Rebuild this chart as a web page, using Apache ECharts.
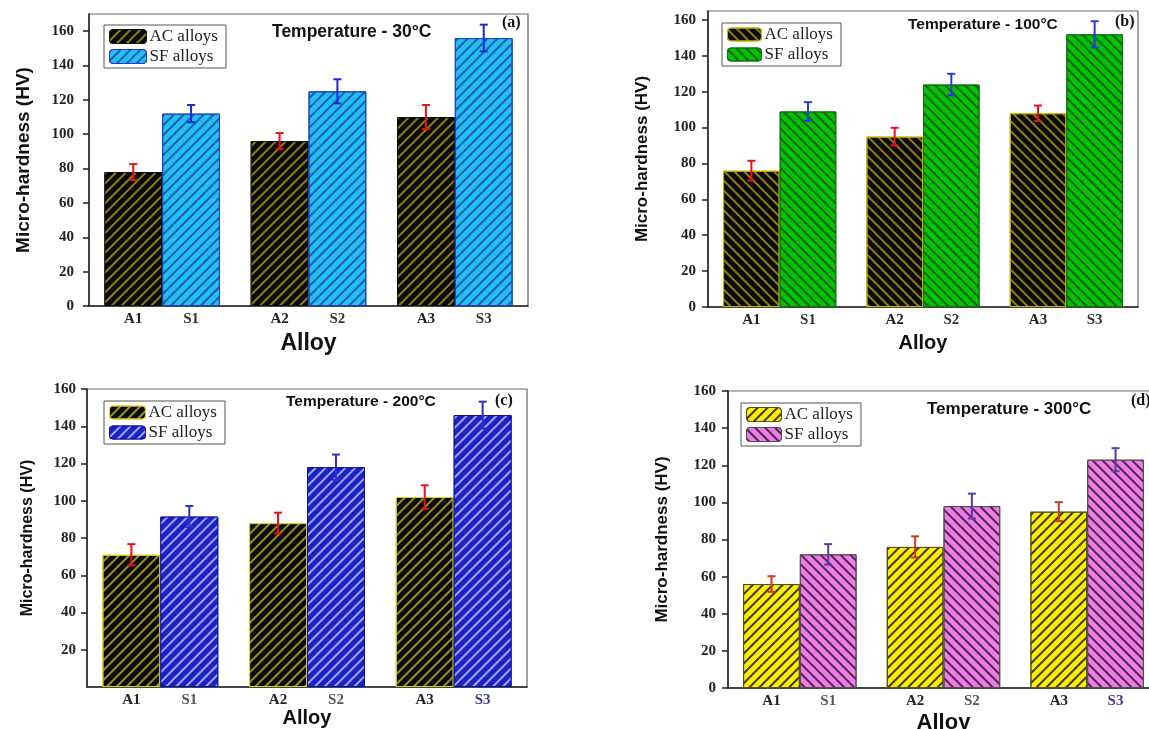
<!DOCTYPE html>
<html>
<head>
<meta charset="utf-8">
<script src="https://cdn.jsdelivr.net/npm/echarts@6/dist/echarts.min.js"></script>
<style>
  html, body { margin: 0; padding: 0; background: #fff; }
  #chart { width: 1149px; height: 729px; }
</style>
</head>
<body>
<div id="chart"></div>
<script>
// x labels
var acLabels = ['A1', 'A2', 'A3'];
var sfLabels = ['S1', 'S2', 'S3'];
var yTicks = [0, 20, 40, 60, 80, 100, 120, 140, 160];

// micro-hardness (HV)
var ac30 = [78, 96, 110];
var sf30 = [112, 125, 156];
var ac30Err = [4.6, 4.7, 7];
var sf30Err = [5, 7, 7.8];

var ac100 = [76, 95, 108];
var sf100 = [109, 124, 152];
var ac100Err = [5.5, 4.9, 4.3];
var sf100Err = [5.2, 6, 7.3];

var ac200 = [71, 88, 102];
var sf200 = [91.5, 118, 146];
var ac200Err = [5.7, 5.6, 6.3];
var sf200Err = [5.7, 6.8, 7.2];

var ac300 = [56, 76, 95];
var sf300 = [72, 98, 123];
var ac300Err = [4.2, 5.7, 5.1];
var sf300Err = [5.5, 6.7, 6.2];

var SERIF = "'Liberation Serif', 'Times New Roman', serif";
var SANS = "'Liberation Sans', Arial, sans-serif";
var GAP = 0.21;

function hatch(color, dir) {
    return {
        symbol: 'rect',
        symbolSize: 1,
        dashArrayX: [1, 0],
        dashArrayY: [1.4, 4.6],
        rotation: dir * Math.PI / 4,
        color: color
    };
}

function errorBars(idx, vals, errs, side, color) {
    return {
        type: 'custom',
        xAxisIndex: idx,
        yAxisIndex: idx,
        z: 10,
        silent: true,
        data: vals.map(function (v, i) { return [i, v, errs[i]]; }),
        renderItem: function (params, api) {
            var band = api.size([1, 0])[0];
            var off = side * band * (1 - GAP) / 4;
            var top = api.coord([api.value(0), api.value(1) + api.value(2)]);
            var bot = api.coord([api.value(0), api.value(1) - api.value(2)]);
            var x = top[0] + off;
            var st = { stroke: color, lineWidth: 2 };
            return {
                type: 'group',
                children: [
                    { type: 'line', shape: { x1: x, y1: top[1], x2: x, y2: bot[1] }, style: st },
                    { type: 'line', shape: { x1: x - 4, y1: top[1], x2: x + 4, y2: top[1] }, style: st },
                    { type: 'line', shape: { x1: x - 4, y1: bot[1], x2: x + 4, y2: bot[1] }, style: st }
                ]
            };
        }
    };
}

var panels = [
    {
        key: 'a', grid: { left: 89, top: 14, width: 439, height: 292 }, max: 170,
        ac: ac30, sf: sf30, acErr: ac30Err, sfErr: sf30Err,
        acStyle: { color: '#0a0a0a', borderColor: '#111', borderWidth: 1, decal: hatch('#8c7e12', -1) },
        sfStyle: { color: '#1fc0f2', borderColor: '#1f3fc0', borderWidth: 1, decal: hatch('#1f5ab0', -1) },
        acErrColor: '#e8101a', sfErrColor: '#1a28d8', sColor: '#333',
        legend: { left: 104, top: 25, itemWidth: 37, itemHeight: 14 },
        yName: 19, yGap: 56, xName: 23, xGap: 26, labelMargin: 15, labelSize: 15
    },
    {
        key: 'b', grid: { left: 708, top: 11, width: 430, height: 296 }, max: 165,
        ac: ac100, sf: sf100, acErr: ac100Err, sfErr: sf100Err,
        acStyle: { color: '#0a0a0a', borderColor: '#c8b400', borderWidth: 1, decal: hatch('#8c7e12', 1) },
        sfStyle: { color: '#00c400', borderColor: '#107010', borderWidth: 1, decal: hatch('#1a5e1a', 1) },
        acErrColor: '#e8101a', sfErrColor: '#2a3ae0', sColor: '#333',
        legend: { left: 722, top: 23, itemWidth: 34, itemHeight: 13 },
        yName: 17, yGap: 57, xName: 20, xGap: 26, labelMargin: 12, labelSize: 15
    },
    {
        key: 'c', grid: { left: 87, top: 389, width: 440, height: 298 }, max: 160,
        ac: ac200, sf: sf200, acErr: ac200Err, sfErr: sf200Err,
        acStyle: { color: '#0a0a0a', borderColor: '#d8d020', borderWidth: 1, decal: hatch('#9a9020', -1) },
        sfStyle: { color: '#2020c8', borderColor: '#1010a0', borderWidth: 1, decal: hatch('#9aa8f0', -1) },
        acErrColor: '#e8101a', sfErrColor: '#3030c8', sColor: '#555',
        legend: { left: 104, top: 401, itemWidth: 36, itemHeight: 13 },
        yName: 16, yGap: 51, xName: 20, xGap: 16, labelMargin: 11, labelSize: 15
    },
    {
        // the right edge of this panel runs past the picture
        key: 'd', grid: { left: 728, top: 391, width: 431, height: 297 }, max: 160,
        ac: ac300, sf: sf300, acErr: ac300Err, sfErr: sf300Err,
        acStyle: { color: '#ffec00', borderColor: '#505020', borderWidth: 1, decal: hatch('#3a3a10', -1) },
        sfStyle: { color: '#f07ae8', borderColor: '#505050', borderWidth: 1, decal: hatch('#4a2a4a', 1) },
        acErrColor: '#c8382a', sfErrColor: '#5a3aa0', sColor: '#555',
        legend: { left: 741, top: 403, itemWidth: 35, itemHeight: 14 },
        yName: 17, yGap: 57, xName: 22, xGap: 24, labelMargin: 12, labelSize: 15
    }
];

var titles = [
    { text: 'Temperature - 30°C', left: 272, top: 23, size: 17.5, font: SANS },
    { text: '(a)', left: 502, top: 15, size: 16, font: SERIF },
    { text: 'Temperature - 100°C', left: 908, top: 17, size: 15.5, font: SANS },
    { text: '(b)', left: 1115, top: 14, size: 16, font: SERIF },
    { text: 'Temperature - 200°C', left: 286, top: 394, size: 15.5, font: SANS },
    { text: '(c)', left: 495, top: 393, size: 16, font: SERIF },
    { text: 'Temperature - 300°C', left: 927, top: 401, size: 17, font: SANS },
    { text: '(d)', left: 1131, top: 393, size: 16, font: SERIF }
];

var option = {
    backgroundColor: '#fff',
    animation: false,
    title: titles.map(function (t) {
        return {
            text: t.text, left: t.left, top: t.top, padding: 0,
            textStyle: { fontFamily: t.font, fontWeight: 'bold', fontSize: t.size, color: '#111' }
        };
    }),
    grid: [], xAxis: [], yAxis: [], legend: [], series: []
};

panels.forEach(function (p, i) {
    var barW = p.grid.width / 3 * (1 - GAP) / 2;
    var acName = 'AC alloys|' + p.key;
    var sfName = 'SF alloys|' + p.key;

    option.grid.push(Object.assign({
        show: true, borderColor: '#666', borderWidth: 1.2,
        containLabel: false, outerBoundsMode: 'none'
    }, p.grid));

    option.xAxis.push({
        type: 'category',
        gridIndex: i,
        data: acLabels,
        name: 'Alloy',
        nameLocation: 'middle',
        nameGap: p.xGap,
        nameTextStyle: { fontFamily: SANS, fontWeight: 'bold', fontSize: p.xName, color: '#111' },
        axisLine: { lineStyle: { color: '#222', width: 1.5 } },
        axisTick: { alignWithLabel: true, length: 7, lineStyle: { color: '#222', width: 1.5 } },
        axisLabel: {
            margin: 6,
            formatter: function (value, idx) {
                var s = (idx === 2 && (p.key === 'c' || p.key === 'd')) ? 's3' : 's';
                return '{a|' + value + '}{' + s + '|' + sfLabels[idx] + '}';
            },
            rich: {
                a: { width: barW, align: 'center', fontFamily: SERIF, fontWeight: 'bold', fontSize: p.labelSize, color: '#222' },
                s: { width: barW, align: 'center', fontFamily: SERIF, fontWeight: 'bold', fontSize: p.labelSize, color: p.sColor },
                s3: { width: barW, align: 'center', fontFamily: SERIF, fontWeight: 'bold', fontSize: p.labelSize, color: '#3a3a90' }
            }
        }
    });

    option.yAxis.push({
        type: 'value',
        gridIndex: i,
        min: yTicks[0],
        max: p.max,
        interval: 20,
        name: 'Micro-hardness (HV)',
        nameLocation: 'middle',
        nameGap: p.yGap,
        nameTextStyle: { fontFamily: SANS, fontWeight: 'bold', fontSize: p.yName, color: '#111' },
        axisLine: { show: true, lineStyle: { color: '#222', width: 1.5 } },
        axisTick: { show: true, length: 6, lineStyle: { color: '#222', width: 1.5 } },
        splitLine: { show: false },
        axisLabel: {
            margin: p.labelMargin,
            showMaxLabel: p.max === 160,
            showMinLabel: p.key !== 'c',
            fontFamily: SERIF, fontWeight: 'bold', fontSize: p.labelSize, color: '#222'
        }
    });

    option.legend.push({
        orient: 'vertical',
        left: p.legend.left,
        top: p.legend.top,
        padding: [3, 8, 3, 5],
        itemGap: 3,
        itemWidth: p.legend.itemWidth,
        itemHeight: p.legend.itemHeight,
        itemStyle: { borderWidth: 1 },
        borderColor: '#555',
        borderWidth: 1,
        selectedMode: false,
        data: [acName, sfName],
        formatter: function (name) { return name.split('|')[0]; },
        textStyle: { fontFamily: SERIF, fontSize: 17, color: '#222', padding: [0, 0, 0, -2] }
    });

    option.series.push({
        name: acName, type: 'bar', xAxisIndex: i, yAxisIndex: i,
        barGap: '0%', barCategoryGap: (GAP * 100) + '%',
        itemStyle: p.acStyle, data: p.ac
    });
    option.series.push({
        name: sfName, type: 'bar', xAxisIndex: i, yAxisIndex: i,
        barGap: '0%', barCategoryGap: (GAP * 100) + '%',
        itemStyle: p.sfStyle, data: p.sf
    });
    option.series.push(errorBars(i, p.ac, p.acErr, -1, p.acErrColor));
    option.series.push(errorBars(i, p.sf, p.sfErr, 1, p.sfErrColor));
});

var chart = echarts.init(document.getElementById('chart'));
chart.setOption(option);
</script>
</body>
</html>
